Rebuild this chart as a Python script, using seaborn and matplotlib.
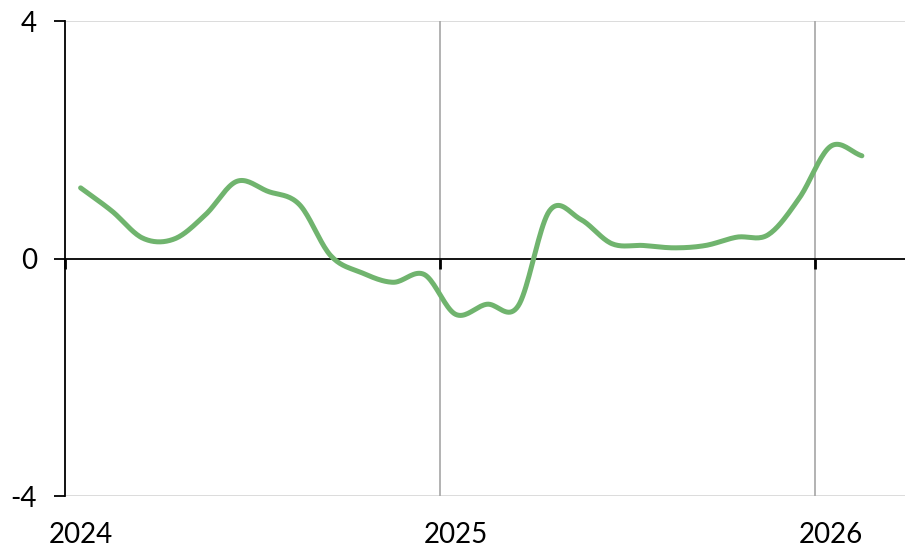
import numpy as np
import pandas as pd
import seaborn as sns
import matplotlib
matplotlib.use("Agg")
import matplotlib.pyplot as plt

# monthly values, Jan 2024 .. Feb 2026
months = pd.date_range("2024-01-01", "2026-02-01", freq="MS")
values = [1.19, 0.80, 0.34, 0.33, 0.74, 1.30, 1.13, 0.91, 0.05, -0.24, -0.40, -0.27,
          -0.94, -0.77, -0.80, 0.80, 0.66, 0.25, 0.22, 0.18, 0.22, 0.36, 0.40, 1.02,
          1.89, 1.73]
year_labels = ["2024", "2025", "2026"]
y_ticks = [-4, 0, 4]

line_color = "#70B46E"


def smooth(x, y, n=20):
    # catmull-rom curve through the points, like a spreadsheet "smoothed line"
    x = np.asarray(x, float)
    y = np.asarray(y, float)
    px = np.concatenate([[2 * x[0] - x[1]], x, [2 * x[-1] - x[-2]]])
    py = np.concatenate([[2 * y[0] - y[1]], y, [2 * y[-1] - y[-2]]])
    t = np.linspace(0, 1, n, endpoint=False)
    xs, ys = [], []
    for i in range(1, len(px) - 2):
        for p, out in ((px, xs), (py, ys)):
            p0, p1, p2, p3 = p[i - 1], p[i], p[i + 1], p[i + 2]
            out.append(0.5 * (2 * p1 + (-p0 + p2) * t
                              + (2 * p0 - 5 * p1 + 4 * p2 - p3) * t ** 2
                              + (-p0 + 3 * p1 - 3 * p2 + p3) * t ** 3))
    xs.append([x[-1]])
    ys.append([y[-1]])
    return np.concatenate(xs), np.concatenate(ys)


# month position (0 = start of Jan 2024), points sit mid-month
pos = np.arange(len(months)) + 0.5
sx, sy = smooth(pos, values)
df = pd.DataFrame({"x": sx, "y": sy})

sns.set_style("white")
plt.rcParams["font.family"] = ["Lato", "DejaVu Sans"]
plt.rcParams["text.color"] = "black"
plt.rcParams["xtick.color"] = "black"
plt.rcParams["ytick.color"] = "black"

fig = plt.figure(figsize=(9.05, 5.49), dpi=100)
ax = fig.add_axes([0.0718, 0.0965, 0.9282, 0.8652])

sns.lineplot(data=df, x="x", y="y", ax=ax, color=line_color, lw=3.6,
             solid_capstyle="round", zorder=5)

ax.set_xlim(0, 26.88)
ax.set_ylim(-4, 4)
ax.set_xlabel("")
ax.set_ylabel("")

# gridlines
for yv in [4, -4]:
    ax.axhline(yv, color="#D9D9D9", lw=1.3, zorder=0.5)
for k in range(1, len(year_labels)):
    ax.axvline(12 * k, color="#A6A6A6", lw=1.2, zorder=0.5)

# spines: left black, bottom moved to zero
for s in ["top", "right"]:
    ax.spines[s].set_visible(False)
ax.spines["left"].set_color("black")
ax.spines["left"].set_linewidth(1.3)
ax.spines["bottom"].set_position(("data", 0))
ax.spines["bottom"].set_color("black")
ax.spines["bottom"].set_linewidth(1.3)

ax.set_yticks(y_ticks)
ax.set_yticklabels([str(v) for v in y_ticks])
ax.tick_params(axis="y", direction="out", length=8, width=1.3, colors="black",
               labelsize=20, pad=12, left=True)

ax.set_xticks([12 * k for k in range(len(year_labels))])
ax.tick_params(axis="x", direction="out", length=7, width=2, colors="black",
               labelbottom=False, bottom=True)

sec = ax.secondary_xaxis("bottom")
sec.set_xticks([12 * k + 0.5 for k in range(len(year_labels))])
sec.set_xticklabels(year_labels)
sec.tick_params(length=0, labelsize=20, pad=19, colors="black")
sec.spines["bottom"].set_visible(False)

fig.savefig("out.png", dpi=100)
